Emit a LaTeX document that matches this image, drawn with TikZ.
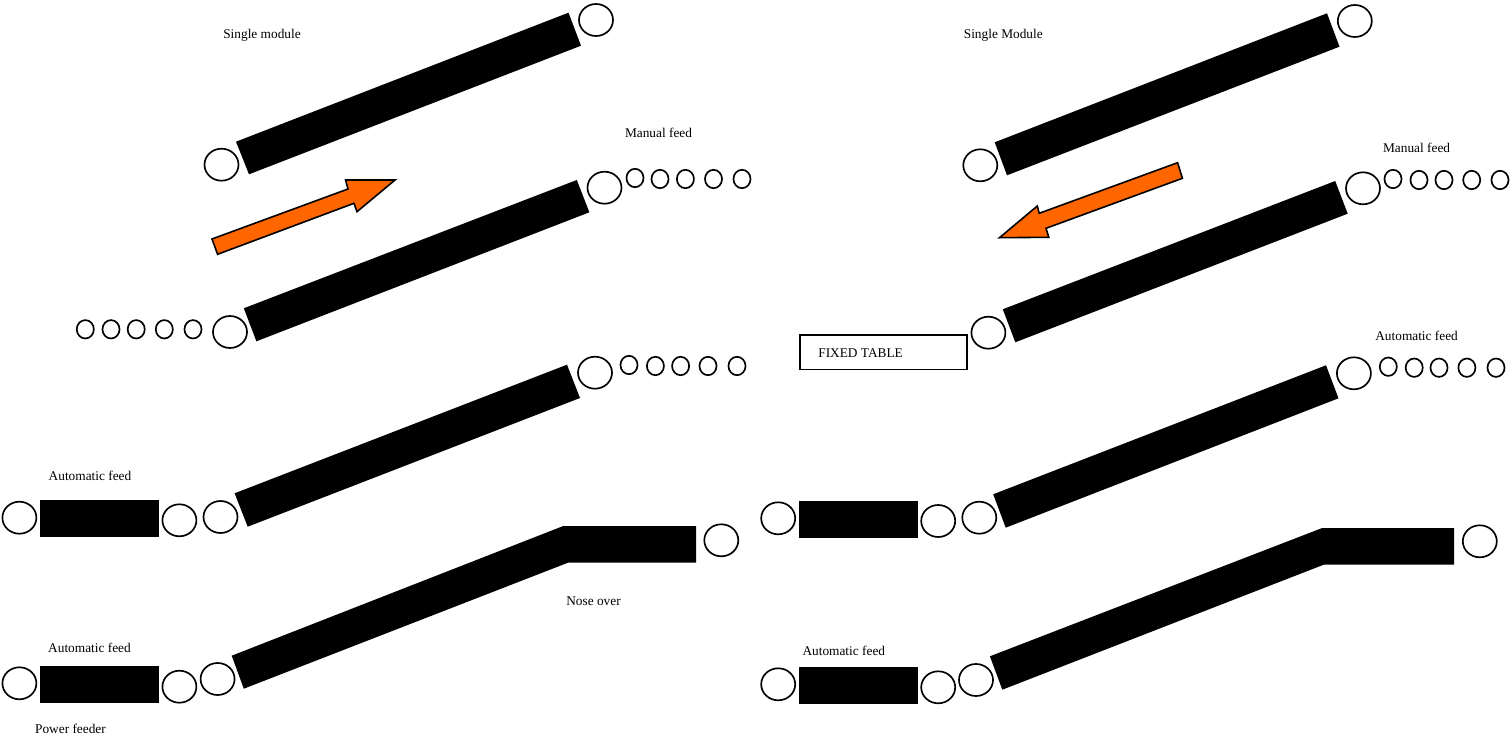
\documentclass[tikz,border=0pt]{standalone}
\usepackage{fontspec}
\setmainfont{Liberation Serif}
\usetikzlibrary{shapes.geometric}
\definecolor{arroworange}{HTML}{FF6600}
\tikzset{
  bar/.style={fill=black,draw=none},
  bigarrow/.style={fill=arroworange,draw=black,line width=1.2pt,line join=miter},
  wheel/.style={ellipse,draw=black,line width=1.25pt,fill=white,inner sep=0pt,minimum width=25.5pt,minimum height=24pt},
  roller/.style={ellipse,draw=black,line width=1.25pt,fill=white,inner sep=0pt,minimum width=12.8pt,minimum height=13.8pt},
  label/.style={inner sep=0pt,font=\fontsize{10}{12}\selectfont,text=black},
  tablebox/.style={draw=black,line width=1.2pt,fill=white}
}
\begin{document}
\begin{tikzpicture}[x=0.75pt,y=-0.75pt]
\useasboundingbox (0,0) rectangle (1511,738);
\fill[white] (0,0) rectangle (1511,738);

% ---------- Left panel ----------
\fill[bar] (236,141.7) -- (568.5,12.7) -- (581,45.7) -- (249,174.3) -- cycle;
\node[wheel] (La) at (221.5,164.7) {};
\node[wheel] (Lb) at (596,20) {};
\node[label] (Lt1) at (262,35.5) {Single module};

\draw[bigarrow] (212,239) -- (348,189) -- (345.6,180) -- (395,180) -- (357,211.7) -- (354,203.3) -- (217.6,254.3) -- cycle;

\fill[bar] (243.8,308.3) -- (576.8,180) -- (589.4,212.3) -- (256.4,341.3) -- cycle;
\node[wheel] (Lc) at (230,332) {};
\node[wheel] (Ld) at (604.5,187.7) {};
\foreach \n/\x in {1/85.3,2/111,3/136.2,4/164.3,5/193} \node[roller] (Lr\n) at (\x,329.3) {};
\foreach \n/\x/\y in {1/635/178,2/660/179,3/685.4/179,4/713.5/179,5/742/179} \node[roller] (Ls\n) at (\x,\y) {};
\node[label] (Lt2) at (658.5,132.5) {Manual feed};

\fill[bar] (234.6,493.3) -- (567,364.7) -- (580,398) -- (247.7,526.7) -- cycle;
\node[wheel] (Le) at (595,372.7) {};
\foreach \n/\x/\y in {1/629/365,2/655.4/366,3/680.6/366,4/708/366,5/737/366} \node[roller] (Lu\n) at (\x,\y) {};
\fill[bar] (40.2,499.7) rectangle (159,536.7);
\node[wheel] (Lf) at (19.4,517.7) {};
\node[wheel] (Lg) at (179.4,520.3) {};
\node[wheel] (Lh) at (220.5,517) {};
\node[label] (Lt3) at (90,476) {Automatic feed};

\fill[bar] (231.7,655.7) -- (563.3,526) -- (696,526) -- (696,562.7) -- (568,562.7) -- (243.8,688.7) -- cycle;
\node[wheel] (Li) at (721.3,540.3) {};
\fill[bar] (40.2,666) rectangle (159,702.7);
\node[wheel] (Lj) at (19.4,683.3) {};
\node[wheel] (Lk) at (179.4,686.7) {};
\node[wheel] (Ll) at (217.6,679) {};
\node[label] (Lt4) at (593.5,601.5) {Nose over};
\node[label] (Lt5) at (89.5,648) {Automatic feed};
\node[label] (Lt6) at (70.5,729) {Power feeder};

% ---------- Right panel ----------
\fill[bar] (994.7,142.3) -- (1327,13.3) -- (1339.5,46.7) -- (1007,175.3) -- cycle;
\node[wheel] (Ra) at (980.3,165.3) {};
\node[wheel] (Rb) at (1354.8,21) {};
\node[label] (Rt1) at (1003.3,35.5) {Single Module};

\draw[bigarrow] (1177.6,162.7) -- (1182.4,178.3) -- (1046,228.3) -- (1048.8,237.3) -- (999.5,237.7) -- (1037.3,206) -- (1039.2,213.3) -- cycle;

\fill[bar] (1002.8,309.3) -- (1335.2,181) -- (1347.7,213.7) -- (1015.3,342.3) -- cycle;
\node[wheel] (Rc) at (988.4,332.7) {};
\node[wheel] (Rd) at (1363,188.3) {};
\foreach \n/\x/\y in {1/1393/179,2/1419/180,3/1444/180,4/1471.7/180,5/1500/180} \node[roller] (Rs\n) at (\x,\y) {};
\node[label] (Rt2) at (1416.6,148) {Manual feed};

\draw[tablebox] (799.8,335) rectangle (966.9,369.5);
\node[label] (Rt3) at (860.6,353.5) {FIXED TABLE};

\fill[bar] (993.2,494.3) -- (1326,365.3) -- (1338.5,398.3) -- (1005.7,527.7) -- cycle;
\node[wheel] (Re) at (1353.9,373.3) {};
\foreach \n/\x/\y in {1/1388.3/366.7,2/1414.2/367.7,3/1439/367.7,4/1466.9/367.7,5/1496/367.7} \node[roller] (Ru\n) at (\x,\y) {};
\node[label] (Rt4) at (1416.6,336) {Automatic feed};
\fill[bar] (798.8,501) rectangle (918,537.7);
\node[wheel] (Rf) at (778.2,518.3) {};
\node[wheel] (Rg) at (938.2,521) {};
\node[wheel] (Rh) at (979.3,517.7) {};

\fill[bar] (989.9,656.3) -- (1322.2,528) -- (1454,528) -- (1454,564.7) -- (1323.7,564.7) -- (1002.3,689.7) -- cycle;
\node[wheel] (Ri) at (1479.8,541.3) {};
\fill[bar] (798.8,667) rectangle (918,703.7);
\node[wheel] (Rj) at (778.2,684.3) {};
\node[wheel] (Rk) at (938.2,687.3) {};
\node[wheel] (Rl) at (976,680) {};
\node[label] (Rt5) at (843.8,650.7) {Automatic feed};
\end{tikzpicture}
\end{document}
